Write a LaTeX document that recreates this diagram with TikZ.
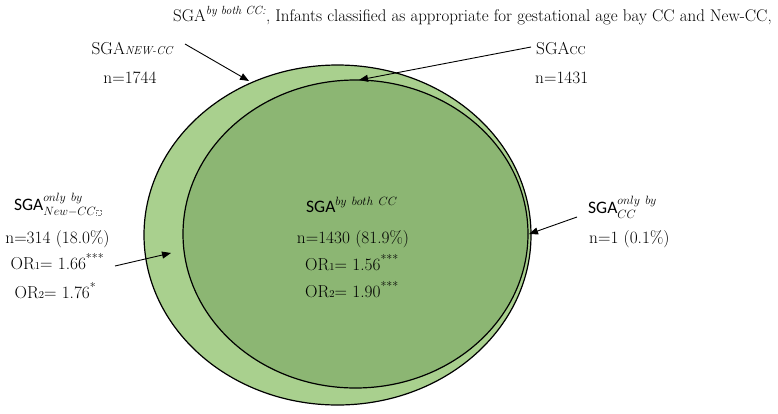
\documentclass[tikz,border=0pt]{standalone}
\usepackage{fontspec}
\usepackage{amsmath}
\newfontfamily\calib{Carlito}
\usetikzlibrary{arrows.meta}
\definecolor{outergreen}{HTML}{A9D08E}
\definecolor{innergreen}{HTML}{8CB673}
\newcommand{\dotbox}{\hbox{\tikz[baseline=0pt]\draw[densely dotted,gray,line width=0.4pt] (0pt,0pt) rectangle (5pt,5pt);}}
\newcommand{\smallsub}[1]{{\fontsize{10.5}{10.5}\selectfont #1}}
\tikzset{
  txt/.style={inner sep=0pt, font=\fontsize{17.3}{20}\selectfont},
  ttl/.style={inner sep=0pt, font=\fontsize{16.9}{20}\selectfont},
  sga/.style={inner sep=0pt, font=\fontsize{17.5}{20}\selectfont},
  arr/.style={line width=0.9pt, -{Triangle[length=9pt,width=7pt]}},
  ring/.style={line width=1.2pt, draw=black}
}
\begin{document}
\begin{tikzpicture}[x=1pt,y=-1pt]
\useasboundingbox (0,0) rectangle (778,413);
% ellipses
\draw[ring, fill=outergreen] (337.5,235) ellipse [x radius=193.5, y radius=170];
\draw[ring, fill=innergreen] (355.5,234) ellipse [x radius=172.5, y radius=154];
% title
\node[ttl, anchor=base west] (title) at (173,21) {SGA\textsuperscript{\itshape by both CC:}, Infants classified as appropriate for gestational age bay CC and New-CC,};
% top labels
\node[txt, anchor=base] (newcc) at (132,54) {SGA{\itshape\fontsize{11.5}{11.5}\selectfont NEW-CC}};
\node[txt, anchor=base] (n1744) at (130,83) {n=1744};
\node[txt, anchor=base west] (cc) at (536,54) {SGA{\fontsize{11.5}{11.5}\selectfont CC}};
\node[txt, anchor=base west] (n1431) at (535,83) {n=1431};
% left block
\node[sga, anchor=base] (leftsga) at (58,210) {{\calib SGA}$^{only\ by}_{New-CC\dotbox}$};
\node[txt, anchor=base] (leftn) at (57.5,243) {n=314 (18.0\%)};
\node[txt, anchor=base] (leftor1) at (57.5,269) {OR\smallsub{1}= 1.66\textsuperscript{***}};
\node[txt, anchor=base] (leftor2) at (55.5,298) {OR\smallsub{2}= 1.76\textsuperscript{*}};
% center block
\node[sga, anchor=base] (midsga) at (352,212) {{\calib SGA}$^{by\ both\ CC}$};
\node[txt, anchor=base] (midn) at (353,243) {n=1430 (81.9\%)};
\node[txt, anchor=base] (midor1) at (352,270) {OR\smallsub{1}= 1.56\textsuperscript{***}};
\node[txt, anchor=base] (midor2) at (352,297) {OR\smallsub{2}= 1.90\textsuperscript{***}};
% right block
\node[sga, anchor=base west] (rightsga) at (588,213) {{\calib SGA}$^{only\ by}_{CC}$};
\node[txt, anchor=base west] (rightn) at (589,243) {n=1 (0.1\%)};
% arrow endpoints
\coordinate (a1s) at (185,44);
\coordinate (a1e) at (249,81);
\coordinate (a2s) at (531,47);
\coordinate (a2e) at (359,80);
\coordinate (a3s) at (115,266);
\coordinate (a3e) at (171,253);
\coordinate (a4s) at (577,217);
\coordinate (a4e) at (529,234);
\draw[arr] (a1s) -- (a1e);
\draw[arr] (a2s) -- (a2e);
\draw[arr] (a3s) -- (a3e);
\draw[arr] (a4s) -- (a4e);
\end{tikzpicture}
\end{document}
